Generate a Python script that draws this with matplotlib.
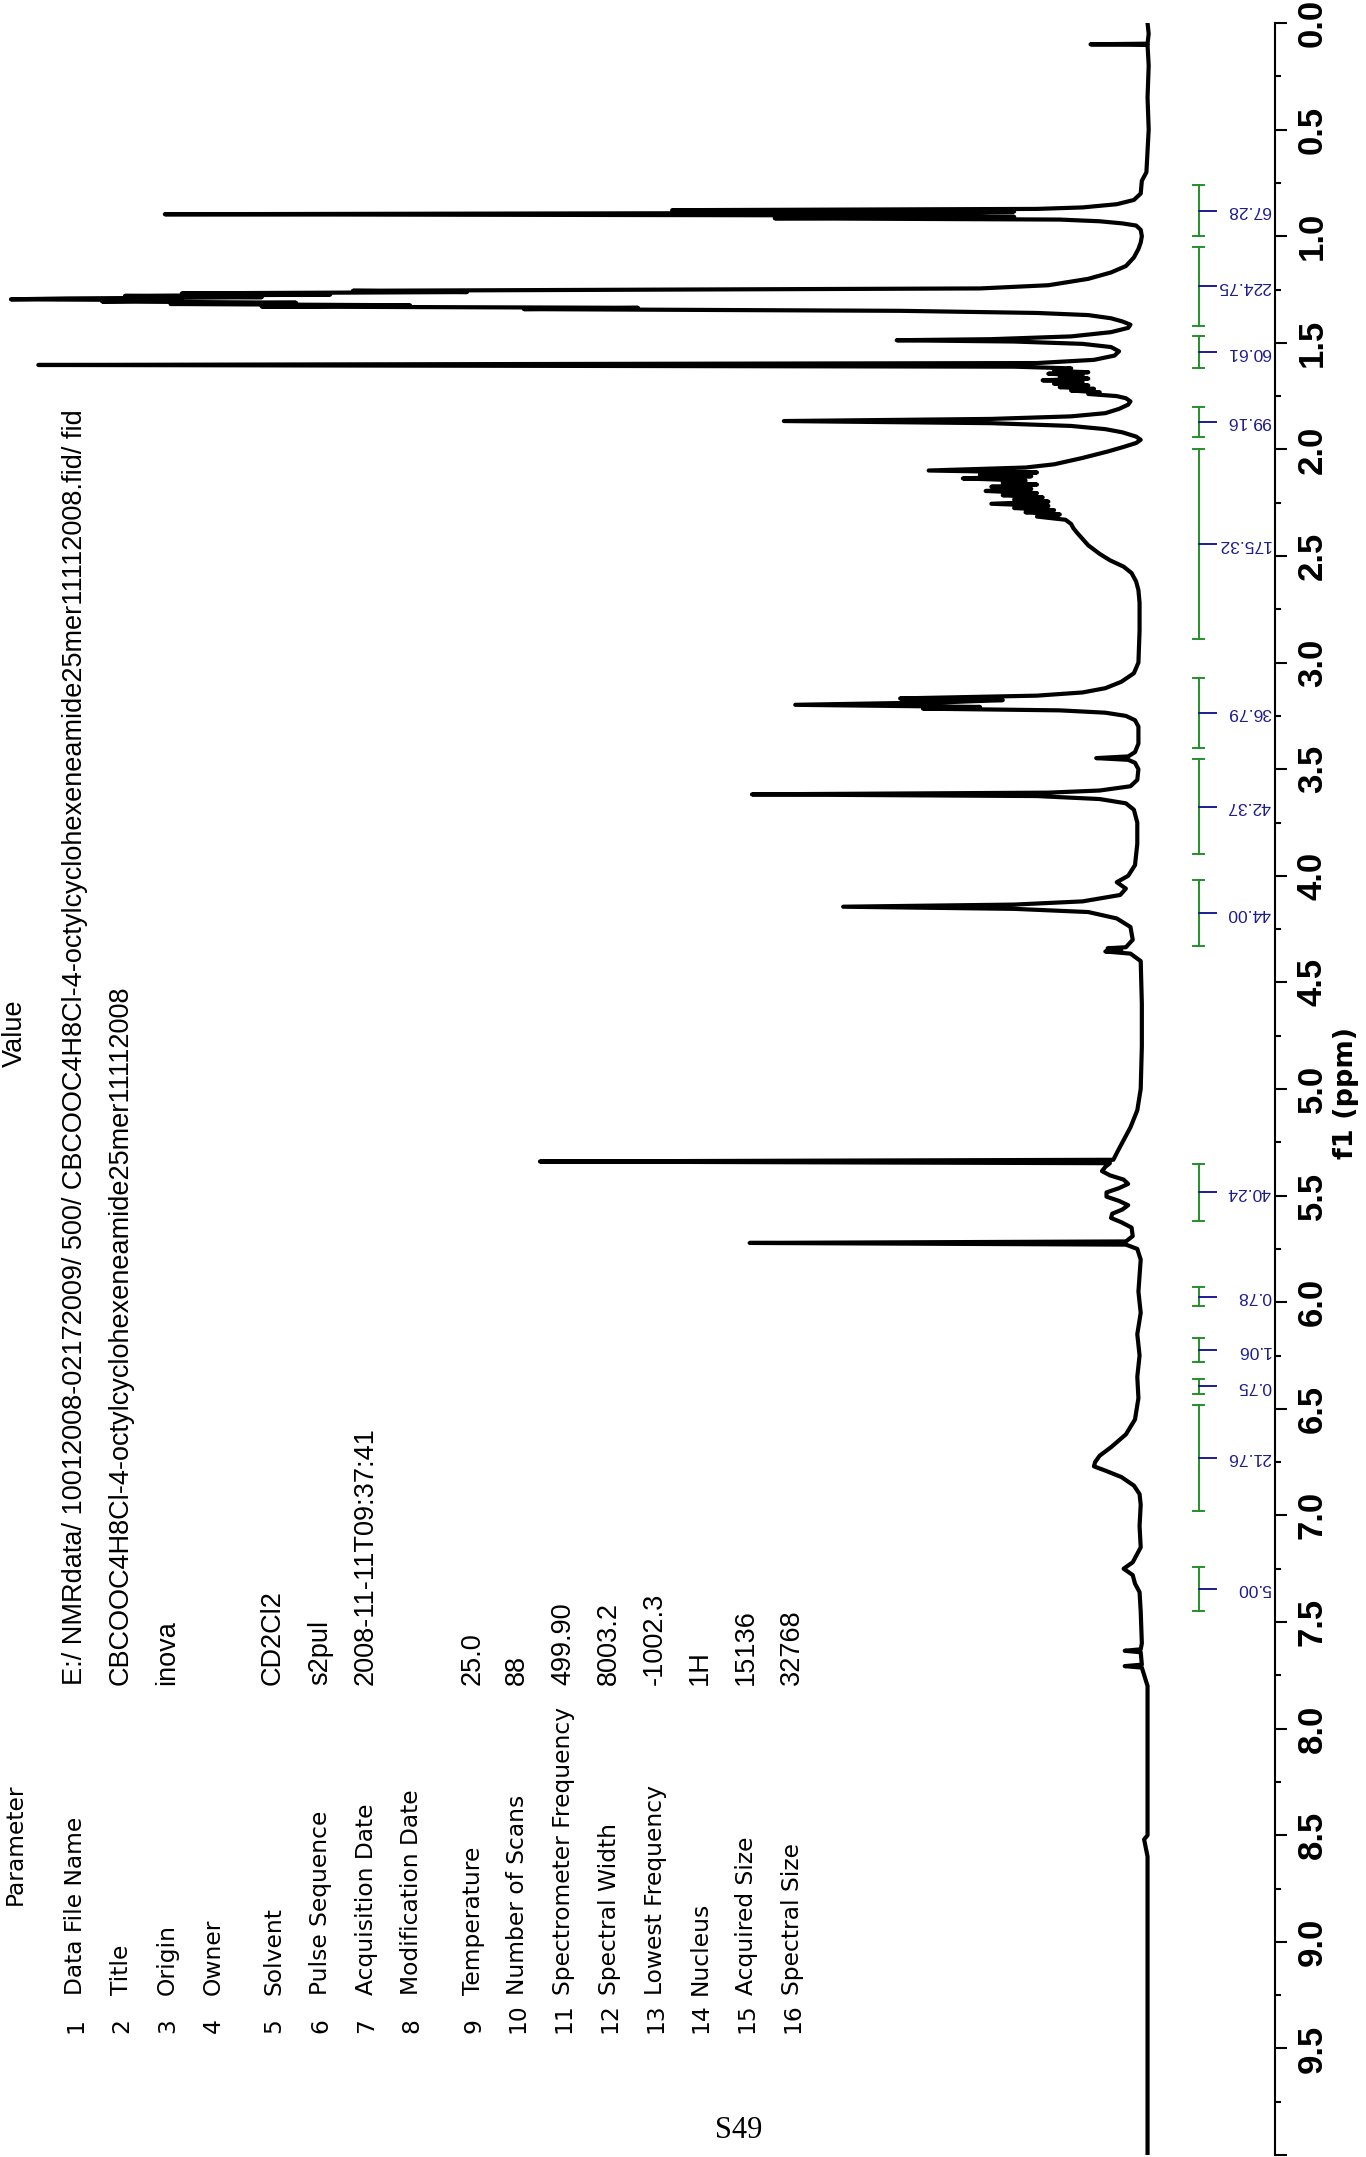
import matplotlib
matplotlib.use('Agg')
import matplotlib.pyplot as plt
from matplotlib.ticker import FixedLocator, MultipleLocator

# spectrum trace: (ppm, intensity 0-100)
trace = [
    (0.00, 0.3), (0.05, 0.2), (0.097, 0.3), (0.100, 5.3), (0.103, 0.3), (0.20, 0.2),
    (0.35, 0.3), (0.50, 0.2), (0.60, 0.3), (0.70, 0.4), (0.74, 0.8), (0.80, 0.9),
    (0.83, 1.5), (0.85, 3.0), (0.865, 6.0), (0.872, 10), (0.878, 42), (0.884, 12),
    (0.890, 18), (0.897, 86.5), (0.903, 20), (0.909, 12), (0.916, 33), (0.922, 8),
    (0.930, 4.5), (0.940, 2.5), (0.950, 1.3), (0.970, 0.9), (1.00, 0.8), (1.03, 0.9),
    (1.06, 1.1), (1.10, 1.5), (1.14, 2.2), (1.17, 3.5), (1.20, 5.5), (1.23, 9), (1.245, 15),
    (1.250, 40), (1.256, 70), (1.262, 60), (1.268, 85), (1.274, 72), (1.280, 90),
    (1.286, 78), (1.292, 95), (1.296, 100), (1.300, 85), (1.306, 92), (1.312, 75),
    (1.318, 86), (1.324, 65), (1.330, 78), (1.336, 45), (1.342, 55), (1.350, 22),
    (1.360, 10), (1.370, 5.5), (1.385, 3.5), (1.400, 2.5), (1.415, 1.8), (1.430, 2.0),
    (1.450, 3.5), (1.470, 7), (1.483, 14), (1.488, 22.3), (1.494, 12), (1.505, 6),
    (1.520, 3.5), (1.540, 2.8), (1.560, 3.2), (1.580, 5), (1.595, 10), (1.604, 97.6),
    (1.612, 12), (1.620, 7), (1.632, 8.5), (1.638, 5.5), (1.645, 9), (1.652, 6),
    (1.660, 8), (1.668, 5.5), (1.676, 9.5), (1.684, 6), (1.692, 8.5), (1.700, 5.5),
    (1.708, 8), (1.716, 5), (1.724, 7), (1.732, 4.5), (1.740, 5.5), (1.750, 3),
    (1.760, 2.2), (1.775, 1.8), (1.790, 2.0), (1.810, 2.8), (1.830, 4), (1.845, 7),
    (1.857, 14), (1.867, 32.2), (1.877, 14), (1.890, 7), (1.905, 4), (1.920, 2.5),
    (1.940, 1.3), (1.955, 0.9), (1.970, 1.3), (1.990, 2.5), (2.010, 3.8), (2.040, 6),
    (2.070, 8.5), (2.085, 11), (2.099, 19.5), (2.108, 10), (2.118, 15), (2.126, 10.5),
    (2.136, 16.5), (2.146, 11), (2.156, 13), (2.165, 10), (2.175, 14), (2.185, 10.5),
    (2.195, 14.5), (2.205, 10), (2.215, 13), (2.225, 9.5), (2.235, 12), (2.245, 9),
    (2.255, 14), (2.265, 9), (2.275, 12), (2.285, 8.5), (2.295, 11), (2.305, 8),
    (2.315, 10), (2.330, 7.5), (2.350, 7), (2.370, 6.8), (2.390, 6.5), (2.420, 6),
    (2.450, 5.5), (2.490, 4.5), (2.520, 3.6), (2.550, 2.4), (2.580, 1.7), (2.620, 1.3),
    (2.660, 1.1), (2.720, 1.0), (2.850, 1.0), (3.000, 1.1), (3.050, 1.5), (3.090, 2.6),
    (3.120, 4), (3.140, 6), (3.155, 10), (3.168, 22), (3.176, 13), (3.186, 18),
    (3.198, 31.2), (3.208, 15), (3.216, 20), (3.224, 8), (3.235, 4), (3.250, 2.2),
    (3.270, 1.4), (3.300, 1.1), (3.380, 1.1), (3.420, 1.4), (3.440, 2.0), (3.448, 4.8),
    (3.456, 2.0), (3.470, 1.4), (3.500, 1.1), (3.550, 1.2), (3.580, 1.8), (3.600, 4.5),
    (3.610, 9), (3.618, 35), (3.626, 10), (3.640, 4.5), (3.660, 2.2), (3.690, 1.5),
    (3.750, 1.2), (3.850, 1.2), (3.950, 1.4), (4.000, 2.0), (4.030, 3.0), (4.060, 2.2),
    (4.090, 2.7), (4.120, 6), (4.135, 12), (4.145, 27), (4.155, 12), (4.170, 5.5),
    (4.200, 3.0), (4.240, 1.8), (4.300, 1.6), (4.335, 2.2), (4.340, 3.8), (4.350, 2.6),
    (4.355, 4.0), (4.365, 1.8), (4.400, 0.9), (4.600, 0.8), (4.800, 0.8), (5.000, 0.9),
    (5.100, 1.2), (5.180, 1.8), (5.240, 2.4), (5.290, 2.9), (5.332, 3.3), (5.340, 53.6),
    (5.348, 3.6), (5.365, 4.0), (5.385, 4.3), (5.405, 3.6), (5.425, 2.4), (5.445, 2.0),
    (5.465, 2.8), (5.485, 3.9), (5.505, 3.9), (5.525, 2.8), (5.545, 2.0), (5.565, 2.5),
    (5.585, 3.4), (5.605, 3.5), (5.625, 2.6), (5.650, 1.7), (5.690, 1.6), (5.715, 2.2),
    (5.722, 35.2), (5.730, 2.2), (5.750, 1.2), (5.800, 0.9), (5.950, 1.1), (6.050, 0.9),
    (6.150, 1.2), (6.250, 1.0), (6.350, 1.2), (6.450, 1.1), (6.550, 1.4), (6.620, 2.2),
    (6.680, 3.5), (6.720, 4.5), (6.750, 4.9), (6.770, 5.0), (6.790, 4.0), (6.820, 2.6),
    (6.860, 1.5), (6.900, 1.0), (6.950, 0.9), (7.050, 1.0), (7.150, 0.9), (7.220, 1.6),
    (7.250, 2.4), (7.280, 1.6), (7.320, 1.4), (7.360, 1.0), (7.450, 0.9), (7.600, 0.8),
    (7.628, 0.9), (7.635, 2.3), (7.642, 0.9), (7.700, 0.8), (7.707, 2.3), (7.714, 0.8),
    (7.800, 0.3), (8.000, 0.3), (8.500, 0.3), (8.520, 0.6), (8.600, 0.3), (9.000, 0.3),
    (9.500, 0.3), (10.00, 0.3),
]
spec_ppm = [p for p, _ in trace]
spec_int = [v for _, v in trace]

# integration regions (ppm) and values
int_start = [0.76, 1.05, 1.47, 1.80, 2.00, 3.07, 3.45, 4.02, 5.35, 5.93, 6.17, 6.36, 6.48, 7.24]
int_end = [1.00, 1.42, 1.62, 1.94, 2.89, 3.40, 3.90, 4.33, 5.62, 6.02, 6.28, 6.43, 6.98, 7.45]
int_labels = ['67.28', '224.75', '60.61', '99.16', '175.32', '36.79', '42.37', '44.00',
              '40.24', '0.78', '1.06', '0.75', '21.76', '5.00']

# parameter table
param_names = ['Data File Name', 'Title', 'Origin', 'Owner', 'Solvent', 'Pulse Sequence',
               'Acquisition Date', 'Modification Date', 'Temperature', 'Number of Scans',
               'Spectrometer Frequency', 'Spectral Width', 'Lowest Frequency', 'Nucleus',
               'Acquired Size', 'Spectral Size']
param_values = ['E:/ NMRdata/ 10012008-02172009/ 500/ CBCOOC4H8Cl-4-octylcyclohexeneamide25mer11112008.fid/ fid',
                'CBCOOC4H8Cl-4-octylcyclohexeneamide25mer11112008', 'inova', '', 'CD2Cl2',
                's2pul', '2008-11-11T09:37:41', '', '25.0', '88', '499.90', '8003.2',
                '-1002.3', '1H', '15136', '32768']

W, H = 1366, 2157
fig = plt.figure(figsize=(W / 100, H / 100), dpi=100)
ax = fig.add_axes([0, 1 - 2155 / H, 1275 / W, 2132 / H])

ax.plot(spec_int, spec_ppm, color='black', lw=3.0, solid_joinstyle='round')
ax.set_ylim(10, 0)
ax.set_xlim(100.96, -10.88)

for s in ['left', 'top', 'bottom']:
    ax.spines[s].set_visible(False)
ax.spines['right'].set_linewidth(1.5)
ax.set_xticks([])
ax.yaxis.tick_right()
majors = [i * 0.5 for i in range(21)]
ax.yaxis.set_major_locator(FixedLocator(majors))
ax.yaxis.set_minor_locator(MultipleLocator(0.25))
ax.tick_params(axis='y', which='major', direction='out', length=8.6, width=1.5, pad=6.5)
ax.tick_params(axis='y', which='minor', direction='out', length=4.3, width=1.5)
ax.set_yticklabels(['%.1f' % m if m < 10 else '' for m in majors],
                   fontfamily='Liberation Sans', fontweight='bold', fontsize=25,
                   rotation=90, va='center')
ax.text(1353 / 1275, 5.02, 'f1 (ppm)', transform=ax.get_yaxis_transform(),
        rotation=90, rotation_mode='anchor', ha='center', va='baseline',
        fontsize=19.5, fontweight='bold', family='DejaVu Sans')

# integrals
green = '#23912a'
navy = '#1c1c8e'
xg, cap, tick_end, lab_x = -4.21, 0.48, -5.70, -10.53
for a, b, lab in zip(int_start, int_end, int_labels):
    m = (a + b) / 2
    ax.plot([xg, xg], [a, b], color=green, lw=1.4)
    ax.plot([xg - cap, xg + cap], [a, a], color=green, lw=1.4)
    ax.plot([xg - cap, xg + cap], [b, b], color=green, lw=1.4)
    ax.plot([xg, tick_end], [m, m], color=navy, lw=1.4)
    ax.text(lab_x, m, lab, rotation=180, ha='right', va='center', color=navy,
            fontsize=12.6, family='Liberation Sans')

# parameter table (rotated)
def fx(px):
    return px / W

def fy(py):
    return 1 - py / H

row_base = [82, 128, 174, 220, 280, 327, 373, 418, 480, 524, 570, 616, 662, 707, 753, 799]
fig.text(fx(22), fy(1905), 'Parameter', rotation=90, rotation_mode='anchor',
         ha='left', va='baseline', fontsize=16.8, family='DejaVu Sans')
fig.text(fx(22), fy(1033), 'Value', rotation=90, rotation_mode='anchor',
         ha='center', va='baseline', fontsize=19.5, family='Liberation Sans')
for i, (name, val) in enumerate(zip(param_names, param_values)):
    xb = fx(row_base[i])
    fig.text(xb, fy(2033), str(i + 1), rotation=90, rotation_mode='anchor',
             ha='left', va='baseline', fontsize=16.8, family='DejaVu Sans')
    fig.text(xb, fy(1995), name, rotation=90, rotation_mode='anchor',
             ha='left', va='baseline', fontsize=16.8, family='DejaVu Sans')
    if val:
        fig.text(xb, fy(1685), val, rotation=90, rotation_mode='anchor',
                 ha='left', va='baseline', fontsize=19.5, family='Liberation Sans')

fig.text(fx(739), fy(2131), 'S49', ha='center', va='center', fontsize=22,
         family='Liberation Serif')

fig.savefig('out.png', dpi=100)
